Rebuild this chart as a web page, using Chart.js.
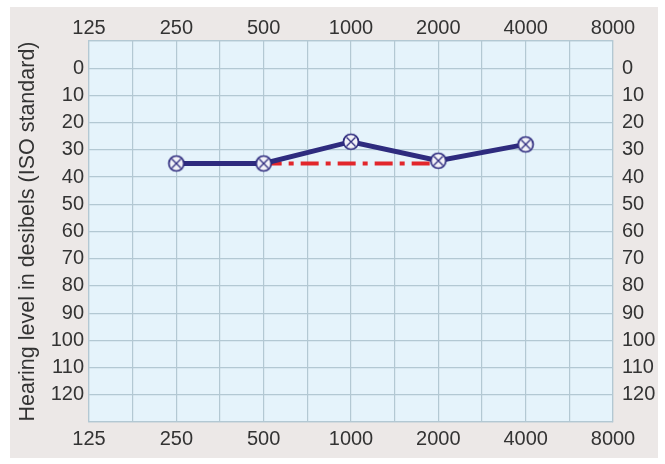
<!DOCTYPE html>
<html>
<head>
<meta charset="utf-8">
<script src="https://cdn.jsdelivr.net/npm/chart.js@4/dist/chart.umd.min.js"></script>
<style>
  html, body { margin: 0; padding: 0; background: #ffffff; }
  #audiogram { display: block; }
</style>
</head>
<body>
<canvas id="audiogram" width="665" height="464"></canvas>
<script>
// audiogram data
const frequencies = [250, 500, 1000, 2000, 4000];
const hearingLevels = [35, 35, 27, 34, 28];
const boneFrequencies = [500, 2000];
const boneLevels = [35, 35];
const freqTickLabels = [125, 250, 500, 1000, 2000, 4000, 8000];
const levelTickLabels = [0, 10, 20, 30, 40, 50, 60, 70, 80, 90, 100, 110, 120];

const textColor = '#333333';
const gridColor = '#b3c8d3';
const fontFamily = '"Liberation Sans", Arial, Helvetica, sans-serif';

// grid lines every half octave between the labelled octaves
const freqGrid = [];
freqTickLabels.forEach(function (f, i) {
    freqGrid.push(f);
    if (i < freqTickLabels.length - 1) freqGrid.push(Math.sqrt(f * freqTickLabels[i + 1]));
});

// circle with a cross inside, used as point marker
function makeMarker() {
    var c = document.createElement('canvas');
    c.width = 20; c.height = 20;
    var g = c.getContext('2d');
    g.beginPath();
    g.arc(10, 10, 7.5, 0, Math.PI * 2);
    g.fillStyle = '#f2f2f8';
    g.fill();
    g.lineWidth = 1.7;
    g.strokeStyle = '#2e2b7e';
    g.stroke();
    g.beginPath();
    g.moveTo(5.5, 5.5); g.lineTo(14.5, 14.5);
    g.moveTo(14.5, 5.5); g.lineTo(5.5, 14.5);
    g.lineWidth = 1.3;
    g.stroke();
    return c;
}

const background = {
    id: 'background',
    beforeDraw: function (chart) {
        var ctx = chart.ctx, a = chart.chartArea;
        ctx.save();
        ctx.fillStyle = '#ffffff';
        ctx.fillRect(0, 0, chart.width, chart.height);
        ctx.fillStyle = '#ece8e7';
        ctx.fillRect(10, 7, 648, 451);
        ctx.fillStyle = '#e5f3fb';
        ctx.fillRect(a.left, a.top, a.right - a.left, a.bottom - a.top);
        ctx.restore();
    }
};

function freqAxis(position, h, pad, showGrid) {
    return {
        type: 'logarithmic',
        position: position,
        min: 125,
        max: 8000,
        afterBuildTicks: function (scale) {
            scale.ticks = freqGrid.map(function (v) { return { value: v }; });
        },
        afterFit: function (scale) { scale.height = h; },
        ticks: {
            autoSkip: false,
            maxRotation: 0,
            padding: pad,
            color: textColor,
            font: { family: fontFamily, size: 20 },
            callback: function (value) {
                return freqTickLabels.indexOf(value) >= 0 ? String(value) : '';
            }
        },
        grid: { display: showGrid, color: gridColor, lineWidth: 1.2, drawTicks: false },
        border: { display: true, color: gridColor, width: 1.2 }
    };
}

function levelAxis(position, w, pad, showGrid, withTitle) {
    return {
        type: 'linear',
        position: position,
        reverse: true,
        min: -10,
        max: 130,
        afterFit: function (scale) { scale.width = w; },
        ticks: {
            stepSize: 10,
            autoSkip: false,
            padding: pad,
            color: textColor,
            font: { family: fontFamily, size: 20 },
            callback: function (value) {
                return levelTickLabels.indexOf(value) >= 0 ? String(value) : '';
            }
        },
        title: {
            display: withTitle,
            text: 'Hearing level in desibels (ISO standard)',
            color: textColor,
            font: { family: fontFamily, size: 21.5 },
            padding: { top: 15, bottom: 0 }
        },
        grid: { display: showGrid, color: gridColor, lineWidth: 1.2, drawTicks: false },
        border: { display: true, color: gridColor, width: 1.2 }
    };
}

document.addEventListener('DOMContentLoaded', function () {
    var ctx = document.getElementById('audiogram').getContext('2d');
    var marker = makeMarker();
    new Chart(ctx, {
        type: 'line',
        data: {
            datasets: [{
                label: 'Air conduction',
                data: frequencies.map(function (f, i) { return { x: f, y: hearingLevels[i] }; }),
                borderColor: '#2e2b7e',
                borderWidth: 5,
                pointStyle: marker,
                pointRadius: 8,
                tension: 0,
                order: 0
            }, {
                label: 'Bone conduction',
                data: boneFrequencies.map(function (f, i) { return { x: f, y: boneLevels[i] }; }),
                borderColor: '#e2262b',
                borderWidth: 4,
                borderDash: [18, 7, 5, 7],
                pointRadius: 0,
                tension: 0,
                order: 1
            }]
        },
        options: {
            responsive: false,
            animation: false,
            layout: { padding: 0 },
            plugins: {
                legend: { display: false },
                tooltip: { enabled: false }
            },
            scales: {
                x: freqAxis('bottom', 42, 5, true),
                x2: freqAxis('top', 41, 1, false),
                y: levelAxis('left', 89, 5, true, true),
                y2: levelAxis('right', 52, 9, false, false)
            }
        },
        plugins: [background]
    });
});
</script>
</body>
</html>
